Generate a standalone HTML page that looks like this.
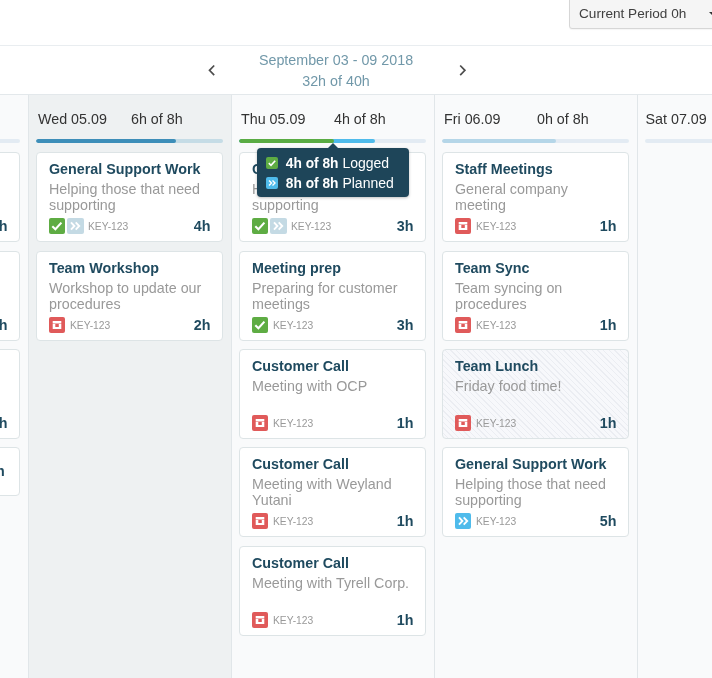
<!DOCTYPE html>
<html lang="en">
<head>
<meta charset="utf-8">
<title>Timesheet week</title>
<style>
*{box-sizing:border-box;margin:0;padding:0}
html,body{width:712px;height:678px;overflow:hidden;background:#fff;font-family:"Liberation Sans",Arial,Helvetica,sans-serif;color:#333}
#root{position:relative;width:712px;height:678px;overflow:hidden;will-change:transform}
.period{position:absolute;left:569px;top:-1px;width:160px;height:30px;background:#f5f5f5;border:1px solid #d6d6d6;box-shadow:0 1px 1px rgba(0,0,0,.04);border-radius:0 0 0 3px;font-size:13.6px;line-height:26px;padding-top:1px;padding-left:9px;color:#404040}
.period .caret{position:absolute;left:139px;top:12px;width:0;height:0;border-left:4px solid transparent;border-right:4px solid transparent;border-top:4px solid #333}
.hr1{position:absolute;left:0;top:45px;width:712px;height:1px;background:#e9edf0}
.nav{position:absolute;left:0;top:46px;width:712px;height:48px}
.nav .range{position:absolute;left:236px;width:200px;text-align:center;font-size:14.3px;line-height:20px;color:#7198a9;white-space:nowrap}
.nav svg{position:absolute}
.cols{position:absolute;left:0;top:94px;width:712px;height:584px;border-top:1px solid #e3e8eb;background:#f9fafb}
.col{position:absolute;top:0;height:584px;width:203px;border-left:1px solid #e1e6e9}
.col.today{background:#eef1f2}
.col .hd{position:absolute;left:9px;top:16px;font-size:14.3px;line-height:17px;color:#333;white-space:nowrap}
.col .hrs{position:absolute;left:102px;top:16px;font-size:14.3px;line-height:17px;color:#333;white-space:nowrap}
.bar{position:absolute;left:7px;top:44px;width:187px;height:4px;border-radius:2px;background:#e3ebf3;overflow:hidden}
.today .bar{background:#c5dce6}
.bar i{position:absolute;left:0;top:0;height:4px;display:block;border-radius:2px}
.card{position:absolute;left:7px;width:187px;height:90px;background:#fff;border:1px solid #dde4e6;border-radius:4px}
.card .t{position:absolute;left:12px;top:8px;font-size:14.3px;font-weight:bold;line-height:17px;color:#1f4a5f;white-space:nowrap}
.card .d{position:absolute;left:12px;top:28px;width:163px;font-size:14.3px;line-height:16px;color:#999}
.card .k{position:absolute;top:66px;font-size:10.3px;line-height:16px;color:#999}
.card .h{position:absolute;right:11.5px;top:65px;font-size:14.3px;font-weight:bold;line-height:17px;color:#1f4a5f}
.ic{position:absolute;top:65px;width:16px;height:16px;border-radius:2px}
.ic svg{display:block;width:16px;height:16px}
.g{background:#5eac43}.lb{background:#c4dae4;width:16.6px}.r{background:#e05a5a}.b{background:#4fbbeb}
.striped{background:#f7f8fb repeating-linear-gradient(45deg,rgba(0,0,0,0) 0,rgba(0,0,0,0) 3px,#ebedf2 3px,#ebedf2 4px)}
.tip{position:absolute;left:257px;top:148px;width:152px;height:49px;background:#1e4559;border-radius:4px;color:#fff;font-size:14px;box-shadow:0 1px 3px rgba(0,0,0,.25)}
.tip:before{content:"";position:absolute;left:71px;top:-5px;border-left:5px solid transparent;border-right:5px solid transparent;border-bottom:5px solid #1e4559}
.tip .row b{font-size:13.75px}
.tip .row{position:absolute;left:28.8px;white-space:nowrap;line-height:17px}
.tip .sq{position:absolute;left:9px;width:12px;height:12px;border-radius:2px}
.tip .sq svg{display:block;width:12px;height:12px}
</style>
</head>
<body>
<div id="root">
  <div class="period">Current Period 0h<span class="caret"></span></div>
  <div class="hr1"></div>
  <div class="nav">
    <svg style="left:206.5px;top:17px" width="10" height="14" viewBox="0 0 10 14"><path d="M7.2 2.5 L2.5 7.3 L7.2 12.1" fill="none" stroke="#4d4d4d" stroke-width="1.7"/></svg>
    <div class="range" style="top:4px">September 03 - 09 2018</div><div class="range" style="top:24.5px">32h of 40h</div>
    <svg style="left:457px;top:17px" width="10" height="14" viewBox="0 0 10 14"><path d="M3.2 2.5 L7.9 7.3 L3.2 12.1" fill="none" stroke="#4d4d4d" stroke-width="1.7"/></svg>
  </div>
  <div class="cols">
    <!-- Tue (cut off) -->
    <div class="col" style="left:-174px;border-left:none">
      <div class="bar"></div>
      <div class="card" style="top:57px"><span class="h">4h</span></div>
      <div class="card" style="top:156px"><span class="h">2h</span></div>
      <div class="card" style="top:254px"><span class="h">1h</span></div>
      <div class="card" style="top:352px;height:49px"><span class="h" style="top:15px;right:14.2px">30m</span></div>
    </div>
    <!-- Wed -->
    <div class="col today" style="left:28px">
      <span class="hd">Wed 05.09</span><span class="hrs">6h of 8h</span>
      <div class="bar"><i style="width:140px;background:#3d8eb9"></i></div>
      <div class="card" style="top:57px">
        <span class="t">General Support Work</span>
        <span class="d">Helping those that need supporting</span>
        <span class="ic g" style="left:12px"><svg viewBox="0 0 16 16"><path d="M3.3 8.2 L6.4 11.3 L12.4 4.6" fill="none" stroke="#fff" stroke-width="2.1"/></svg></span>
        <span class="ic lb" style="left:30px"><svg viewBox="0 0 16 16"><path d="M4 4.4 L7.4 8 L4 11.6 M8.7 4.4 L12.2 8 L8.7 11.6" fill="none" stroke="#fff" stroke-width="1.9"/></svg></span>
        <span class="k" style="left:51px">KEY-123</span><span class="h">4h</span>
      </div>
      <div class="card" style="top:156px">
        <span class="t">Team Workshop</span>
        <span class="d">Workshop to update our procedures</span>
        <span class="ic r" style="left:12px"><svg viewBox="0 0 16 16"><path d="M3.7 4.1h8.6v2.5H3.7z M3.7 7h2.6v2.9h3.5V7h2.5v5.1H3.7z" fill="#fff"/></svg></span>
        <span class="k" style="left:33px">KEY-123</span><span class="h">2h</span>
      </div>
    </div>
    <!-- Thu -->
    <div class="col" style="left:231px">
      <span class="hd">Thu 05.09</span><span class="hrs">4h of 8h</span>
      <div class="bar"><i style="width:135.5px;background:#4fbbeb"></i><i style="width:94.5px;background:#5aac44"></i></div>
      <div class="card" style="top:57px">
        <span class="t">General Support Work</span>
        <span class="d">Helping those that need supporting</span>
        <span class="ic g" style="left:12px"><svg viewBox="0 0 16 16"><path d="M3.3 8.2 L6.4 11.3 L12.4 4.6" fill="none" stroke="#fff" stroke-width="2.1"/></svg></span>
        <span class="ic lb" style="left:30px"><svg viewBox="0 0 16 16"><path d="M4 4.4 L7.4 8 L4 11.6 M8.7 4.4 L12.2 8 L8.7 11.6" fill="none" stroke="#fff" stroke-width="1.9"/></svg></span>
        <span class="k" style="left:51px">KEY-123</span><span class="h">3h</span>
      </div>
      <div class="card" style="top:156px">
        <span class="t">Meeting prep</span>
        <span class="d">Preparing for customer meetings</span>
        <span class="ic g" style="left:12px"><svg viewBox="0 0 16 16"><path d="M3.3 8.2 L6.4 11.3 L12.4 4.6" fill="none" stroke="#fff" stroke-width="2.1"/></svg></span>
        <span class="k" style="left:33px">KEY-123</span><span class="h">3h</span>
      </div>
      <div class="card" style="top:254px">
        <span class="t">Customer Call</span>
        <span class="d">Meeting with OCP</span>
        <span class="ic r" style="left:12px"><svg viewBox="0 0 16 16"><path d="M3.7 4.1h8.6v2.5H3.7z M3.7 7h2.6v2.9h3.5V7h2.5v5.1H3.7z" fill="#fff"/></svg></span>
        <span class="k" style="left:33px">KEY-123</span><span class="h">1h</span>
      </div>
      <div class="card" style="top:352px">
        <span class="t">Customer Call</span>
        <span class="d">Meeting with Weyland Yutani</span>
        <span class="ic r" style="left:12px"><svg viewBox="0 0 16 16"><path d="M3.7 4.1h8.6v2.5H3.7z M3.7 7h2.6v2.9h3.5V7h2.5v5.1H3.7z" fill="#fff"/></svg></span>
        <span class="k" style="left:33px">KEY-123</span><span class="h">1h</span>
      </div>
      <div class="card" style="top:451px">
        <span class="t">Customer Call</span>
        <span class="d">Meeting with Tyrell Corp.</span>
        <span class="ic r" style="left:12px"><svg viewBox="0 0 16 16"><path d="M3.7 4.1h8.6v2.5H3.7z M3.7 7h2.6v2.9h3.5V7h2.5v5.1H3.7z" fill="#fff"/></svg></span>
        <span class="k" style="left:33px">KEY-123</span><span class="h">1h</span>
      </div>
    </div>
    <!-- Fri -->
    <div class="col" style="left:434px">
      <span class="hd">Fri 06.09</span><span class="hrs">0h of 8h</span>
      <div class="bar"><i style="width:114px;background:#b5d6e8"></i></div>
      <div class="card" style="top:57px">
        <span class="t">Staff Meetings</span>
        <span class="d">General company meeting</span>
        <span class="ic r" style="left:12px"><svg viewBox="0 0 16 16"><path d="M3.7 4.1h8.6v2.5H3.7z M3.7 7h2.6v2.9h3.5V7h2.5v5.1H3.7z" fill="#fff"/></svg></span>
        <span class="k" style="left:33px">KEY-123</span><span class="h">1h</span>
      </div>
      <div class="card" style="top:156px">
        <span class="t">Team Sync</span>
        <span class="d">Team syncing on procedures</span>
        <span class="ic r" style="left:12px"><svg viewBox="0 0 16 16"><path d="M3.7 4.1h8.6v2.5H3.7z M3.7 7h2.6v2.9h3.5V7h2.5v5.1H3.7z" fill="#fff"/></svg></span>
        <span class="k" style="left:33px">KEY-123</span><span class="h">1h</span>
      </div>
      <div class="card striped" style="top:254px">
        <span class="t">Team Lunch</span>
        <span class="d">Friday food time!</span>
        <span class="ic r" style="left:12px"><svg viewBox="0 0 16 16"><path d="M3.7 4.1h8.6v2.5H3.7z M3.7 7h2.6v2.9h3.5V7h2.5v5.1H3.7z" fill="#fff"/></svg></span>
        <span class="k" style="left:33px">KEY-123</span><span class="h">1h</span>
      </div>
      <div class="card" style="top:352px">
        <span class="t">General Support Work</span>
        <span class="d">Helping those that need supporting</span>
        <span class="ic b" style="left:12px"><svg viewBox="0 0 16 16"><path d="M4 4.4 L7.4 8 L4 11.6 M8.7 4.4 L12.2 8 L8.7 11.6" fill="none" stroke="#fff" stroke-width="1.9"/></svg></span>
        <span class="k" style="left:33px">KEY-123</span><span class="h">5h</span>
      </div>
    </div>
    <!-- Sat -->
    <div class="col" style="left:637px">
      <span class="hd" style="left:7.5px">Sat 07.09</span>
      <div class="bar"></div>
    </div>
  </div>
  <div class="tip">
    <span class="sq g" style="top:9px"><svg viewBox="0 0 12 12"><path d="M2.8 6.2 L5 8.3 L9.2 3.7" fill="none" stroke="#fff" stroke-width="1.6"/></svg></span>
    <span class="row" style="top:6.5px"><b>4h of 8h</b> Logged</span>
    <span class="sq b" style="top:29px"><svg viewBox="0 0 12 12"><path d="M3 3.5 L5.5 6 L3 8.5 M6.5 3.5 L9 6 L6.5 8.5" fill="none" stroke="#fff" stroke-width="1.4"/></svg></span>
    <span class="row" style="top:26.5px"><b>8h of 8h</b> Planned</span>
  </div>
</div>
</body>
</html>
